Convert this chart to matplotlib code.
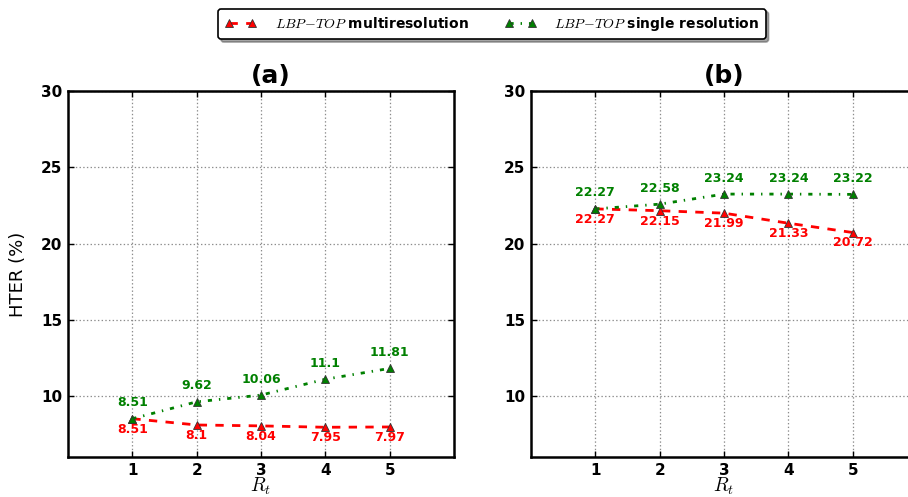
import matplotlib
matplotlib.use('Agg')
import matplotlib.pyplot as plt

plt.rcParams['mathtext.fontset'] = 'cm'
plt.rcParams['lines.scale_dashes'] = False
plt.rcParams['lines.dashed_pattern'] = [6, 6]
plt.rcParams['lines.dashdot_pattern'] = [3, 5, 1, 5]

rt = [1, 2, 3, 4, 5]

# panel (a)
multi_a = [8.51, 8.1, 8.04, 7.95, 7.97]
single_a = [8.51, 9.62, 10.06, 11.1, 11.81]

# panel (b)
multi_b = [22.27, 22.15, 21.99, 21.33, 20.72]
single_b = [22.27, 22.58, 23.24, 23.24, 23.22]

panels = [('(a)', multi_a, single_a), ('(b)', multi_b, single_b)]
yticks = [10, 15, 20, 25, 30]

RED = '#ff0000'
GREEN = '#008000'


def fmt(v):
    return ('%.2f' % v).rstrip('0').rstrip('.')


def draw_panel(ax, title, multi, single, title_x):
    l1, = ax.plot(rt, multi, '--', color=RED, lw=2, marker='^', ms=6,
                  mfc=RED, mec='0.2', mew=0.6, zorder=3,
                  label=r'$LBP\!-\!TOP$ multiresolution')
    l2, = ax.plot(rt, single, '-.', color=GREEN, lw=2, marker='^', ms=6,
                  mfc=GREEN, mec='0.2', mew=0.6, zorder=4,
                  label=r'$LBP\!-\!TOP$ single resolution')

    for x, y in zip(rt, single):
        ax.annotate(fmt(y), (x, y), xytext=(0, 11.5), textcoords='offset points',
                    ha='center', va='center', color=GREEN, fontsize=9, fontweight='bold')
    for x, y in zip(rt, multi):
        ax.annotate(fmt(y), (x, y), xytext=(0, -7.5), textcoords='offset points',
                    ha='center', va='center', color=RED, fontsize=9, fontweight='bold')

    ax.set_xlim(0, 6)
    ax.set_ylim(6, 30)
    ax.set_xticks(rt)
    ax.set_yticks(yticks)
    ax.grid(True, color='0.55', linestyle=':', lw=0.9)
    ax.tick_params(direction='in', top=True, right=True, length=4, width=1,
                   labelsize=11, pad=4)
    for lab in ax.get_xticklabels() + ax.get_yticklabels():
        lab.set_fontweight('bold')
    for sp in ax.spines.values():
        sp.set_linewidth(1.8)
    ax.set_xlabel(r'$R_t$', fontsize=14, labelpad=-1)
    ax.set_title(title, fontsize=18, fontweight='bold', x=title_x, pad=6)
    return l1, l2


def main():
    fig = plt.figure(figsize=(9.08, 4.97), dpi=100)
    W, H = 908.0, 497.0
    ax_a = fig.add_axes([68 / W, 40 / H, 386 / W, 366 / H])
    ax_b = fig.add_axes([531 / W, 40 / H, 386 / W, 366 / H])

    handles = draw_panel(ax_a, panels[0][0], panels[0][1], panels[0][2], 0.526)
    draw_panel(ax_b, panels[1][0], panels[1][1], panels[1][2], 0.5)

    ax_a.set_ylabel('HTER (%)', fontsize=13, labelpad=10)

    leg = fig.legend(handles, [h.get_label() for h in handles], loc='center',
                     bbox_to_anchor=(492 / W, 1 - 24 / H), ncol=2, numpoints=2,
                     fancybox=True, shadow=True, fontsize=10, columnspacing=2.6,
                     handlelength=2.3, handletextpad=1.3, borderpad=0.45)
    for t in leg.get_texts():
        t.set_fontweight('bold')
    leg.get_frame().set_edgecolor('black')
    leg.get_frame().set_linewidth(1.2)

    fig.savefig('out.png', dpi=100)


if __name__ == '__main__':
    main()
